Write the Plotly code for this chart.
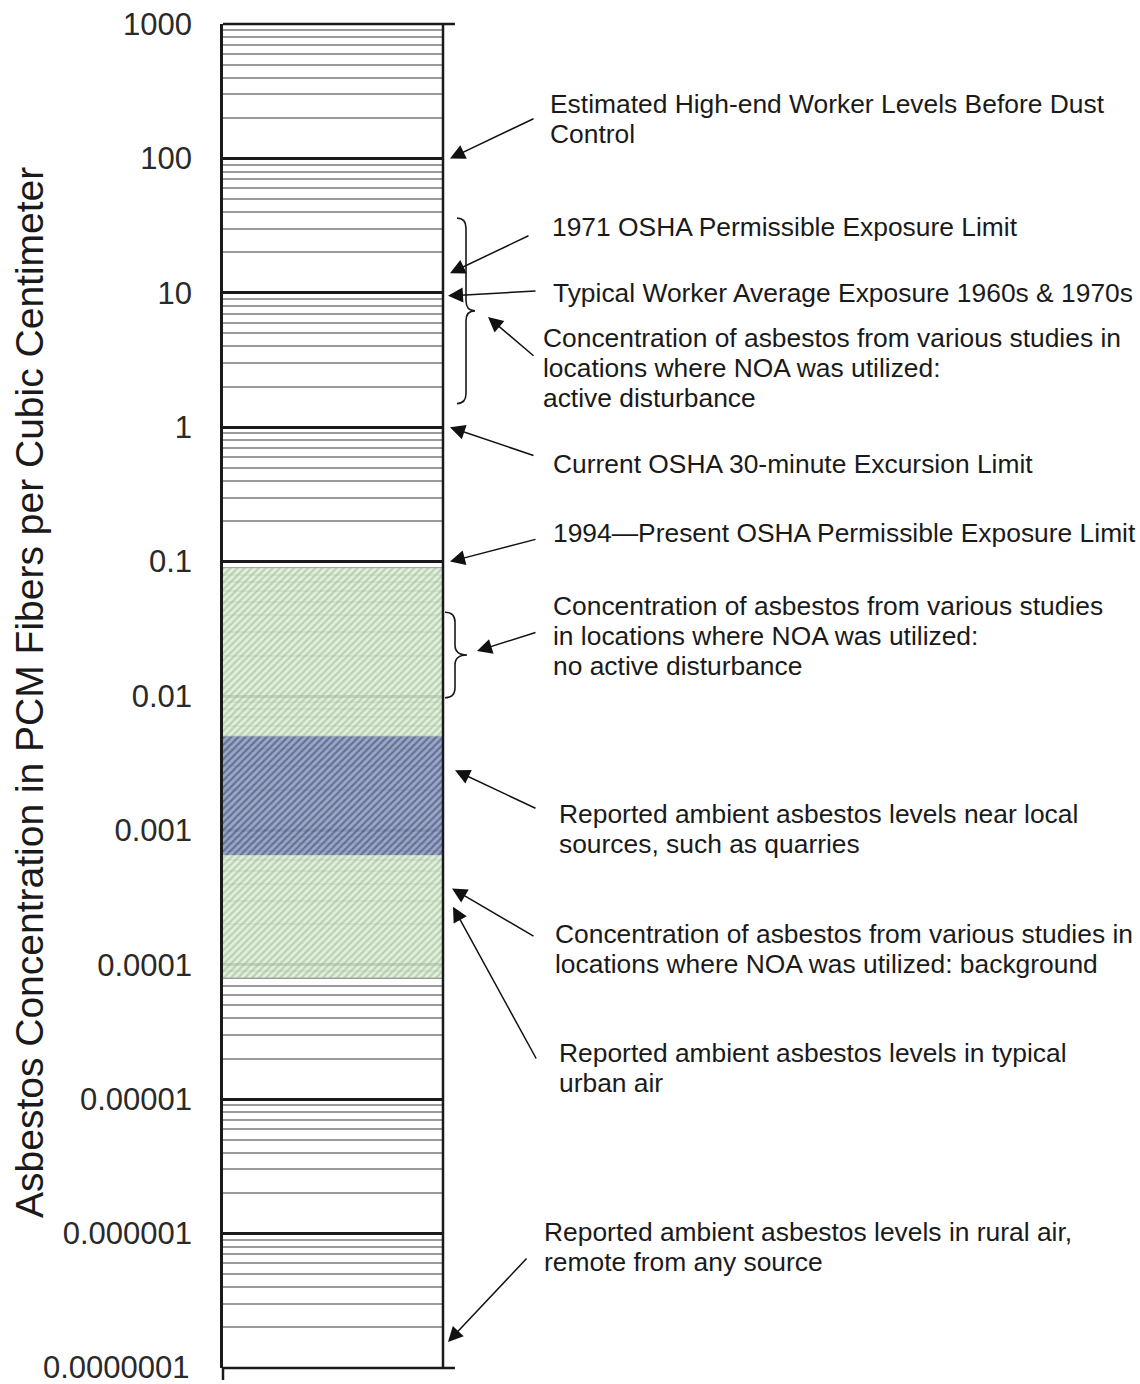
import math
import plotly.graph_objects as go

# ---------------- data ----------------
decade_vals = [1e-7, 1e-6, 1e-5, 1e-4, 1e-3, 1e-2, 1e-1, 1, 10, 100, 1000]
decade_labels = ["0.0000001", "0.000001", "0.00001", "0.0001", "0.001", "0.01",
                 "0.1", "1", "10", "100", "1000"]
minor_multipliers = [2, 3, 4, 5, 6, 7, 8, 9]

# shaded bands (low, high)
band_names = ["NOA no active disturbance", "near local sources", "NOA background"]
band_low = [0.005, 0.00065, 0.00008]
band_high = [0.09, 0.005, 0.00065]
band_bg = ["rgba(222,236,216,0.88)", "rgba(150,163,195,0.94)", "rgba(222,236,216,0.88)"]
band_fg = ["#8fb587", "#2b3a68", "#8fb587"]

# braces (value ranges)
brace_top = [36, 0.042]
brace_bot = [1.5, 0.0097]

# arrow targets (concentration values)
arrow_vals = [100, 14, 9.5, 6.6, 1, 0.1, 0.0216, 0.0028, 0.00037, 0.00027, 1.56e-7]

# label texts (lines)
label_lines = [
    ["Estimated High-end Worker Levels Before Dust", "Control"],
    ["1971 OSHA Permissible Exposure Limit"],
    ["Typical Worker Average Exposure 1960s & 1970s"],
    ["Concentration of asbestos from various studies in",
     "locations where NOA was utilized:", "active disturbance"],
    ["Current OSHA 30-minute Excursion Limit"],
    ["1994\u2014Present OSHA Permissible Exposure Limit"],
    ["Concentration of asbestos from various studies",
     "in locations where NOA was utilized:", "no active disturbance"],
    ["Reported ambient asbestos levels near local", "sources, such as quarries"],
    ["Concentration of asbestos from various studies in",
     "locations where NOA was utilized: background"],
    ["Reported ambient asbestos levels in typical", "urban air"],
    ["Reported ambient asbestos levels in rural air,", "remote from any source"],
]
axis_title = "Asbestos Concentration in PCM Fibers per Cubic Centimeter"

# ---------------- layout geometry ----------------
W, H = 1140, 1384
L, R, T, B = 223, 443, 24, 1368
FONT = "Liberation Sans, Arial, sans-serif"
TICKFONT = dict(family=FONT, size=31, color="#2a2a2a")
Y_RANGE = [-7.0008, 3.0008]


def px_x(px):
    return (px - L) / (R - L)


def px_y(py):
    return (B - py) / (B - T)


def val_y(v):
    return (math.log10(v) - Y_RANGE[0]) / (Y_RANGE[1] - Y_RANGE[0])


minor_vals = [m * d for d in decade_vals[:-1] for m in minor_multipliers]

fig = go.Figure()

# shaded bands
for lo, hi, bg, fg, name in zip(band_low, band_high, band_bg, band_fg, band_names):
    fig.add_trace(go.Scatter(
        x=[0, 1, 1, 0, 0], y=[lo, lo, hi, hi, lo],
        mode="lines", fill="toself", line=dict(width=0),
        fillcolor=bg,
        fillpattern=dict(shape="/", fgcolor=fg, bgcolor=bg, size=5, solidity=0.45),
        hoverinfo="skip", name=name,
    ))

shapes = []
# right border and top/bottom extensions
shapes.append(dict(type="line", xref="paper", yref="paper", x0=1, x1=1,
                   y0=val_y(decade_vals[0]), y1=val_y(decade_vals[-1]),
                   line=dict(color="#1a1a1a", width=2.5)))
for v in (decade_vals[0], decade_vals[-1]):
    shapes.append(dict(type="line", xref="paper", yref="paper", x0=0, x1=px_x(455),
                       y0=val_y(v), y1=val_y(v), line=dict(color="#1a1a1a", width=2.5)))
shapes.append(dict(type="line", xref="paper", yref="paper", x0=0, x1=0,
                   y0=px_y(1380), y1=0, line=dict(color="#1a1a1a", width=2.5)))

# braces
brace_geo = [(457, 466, 475), (445, 455, 467)]
for (xe, xm, xt), vt, vb in zip(brace_geo, brace_top, brace_bot):
    yt, yb = val_y(vt), val_y(vb)
    yc = (yt + yb) / 2
    d = 10 / (B - T)
    Xe, Xm, Xt = px_x(xe), px_x(xm), px_x(xt)
    path = (f"M {Xe},{yt} Q {Xm},{yt} {Xm},{yt - d} L {Xm},{yc + d} "
            f"Q {Xm},{yc} {Xt},{yc} Q {Xm},{yc} {Xm},{yc - d} "
            f"L {Xm},{yb + d} Q {Xm},{yb} {Xe},{yb}")
    shapes.append(dict(type="path", xref="paper", yref="paper", path=path,
                       line=dict(color="#1a1a1a", width=1.6)))

annotations = []
# arrows: head x pixel, tail pixel
arrow_head_x = [450, 450, 448, 488, 450, 450, 477, 455, 452, 453, 448]
arrow_tail = [(535, 118), (530, 235), (537, 291), (535, 357), (535, 456), (537, 539),
              (537, 632), (537, 809), (535, 937), (537, 1060), (528, 1257)]
for v, hx, (tx, ty) in zip(arrow_vals, arrow_head_x, arrow_tail):
    hy = B - val_y(v) * (B - T)
    annotations.append(dict(
        x=px_x(hx), y=math.log10(v), xref="paper", yref="y", text="",
        showarrow=True, arrowhead=2, arrowsize=2.0, arrowwidth=1.5,
        arrowcolor="#111", ax=tx - hx, ay=ty - hy, standoff=0,
    ))

# text labels
label_pos = [(548, 104), (550, 227), (551, 293), (541, 338), (551, 464), (551, 533),
             (551, 606), (557, 814), (553, 934), (557, 1053), (542, 1232)]
for lines, (lx, ly) in zip(label_lines, label_pos):
    for i, line in enumerate(lines):
        annotations.append(dict(
            x=px_x(lx), y=px_y(ly + 30 * i), xref="paper", yref="paper",
            text=line, showarrow=False, xanchor="left", yanchor="middle",
            font=dict(family=FONT, size=26.4, color="#1a1a1a"),
        ))

# bottom tick label (plotly drops the label at the very bottom edge)
annotations.append(dict(
    x=px_x(192), y=math.log10(decade_vals[0]), xref="paper", yref="y",
    text=decade_labels[0], showarrow=False, xanchor="right", yanchor="middle",
    font=TICKFONT,
))

# axis title
annotations.append(dict(
    x=px_x(30), y=px_y(693), xref="paper", yref="paper", text=axis_title,
    showarrow=False, textangle=-90, xanchor="center", yanchor="middle",
    font=dict(family=FONT, size=39, color="#1a1a1a"),
))

fig.update_layout(
    width=W, height=H,
    margin=dict(l=L, r=W - R, t=T, b=H - B, autoexpand=False),
    paper_bgcolor="white", plot_bgcolor="white",
    showlegend=False,
    xaxis=dict(range=[0, 1], visible=False, fixedrange=True, automargin=False),
    yaxis=dict(
        type="log", range=Y_RANGE, automargin=False,
        tickmode="array", tickvals=decade_vals[1:], ticktext=decade_labels[1:],
        tickfont=TICKFONT,
        ticks="", ticklabelstandoff=22,
        showgrid=True, gridcolor="#1a1a1a", gridwidth=2.5,
        showline=True, linecolor="#1a1a1a", linewidth=2.5,
        zeroline=False,
        minor=dict(tickmode="array", tickvals=minor_vals, showgrid=True,
                   gridcolor="#9a9a9a", gridwidth=2, ticks=""),
    ),
    shapes=shapes,
    annotations=annotations,
)

fig.write_html("out.html")
